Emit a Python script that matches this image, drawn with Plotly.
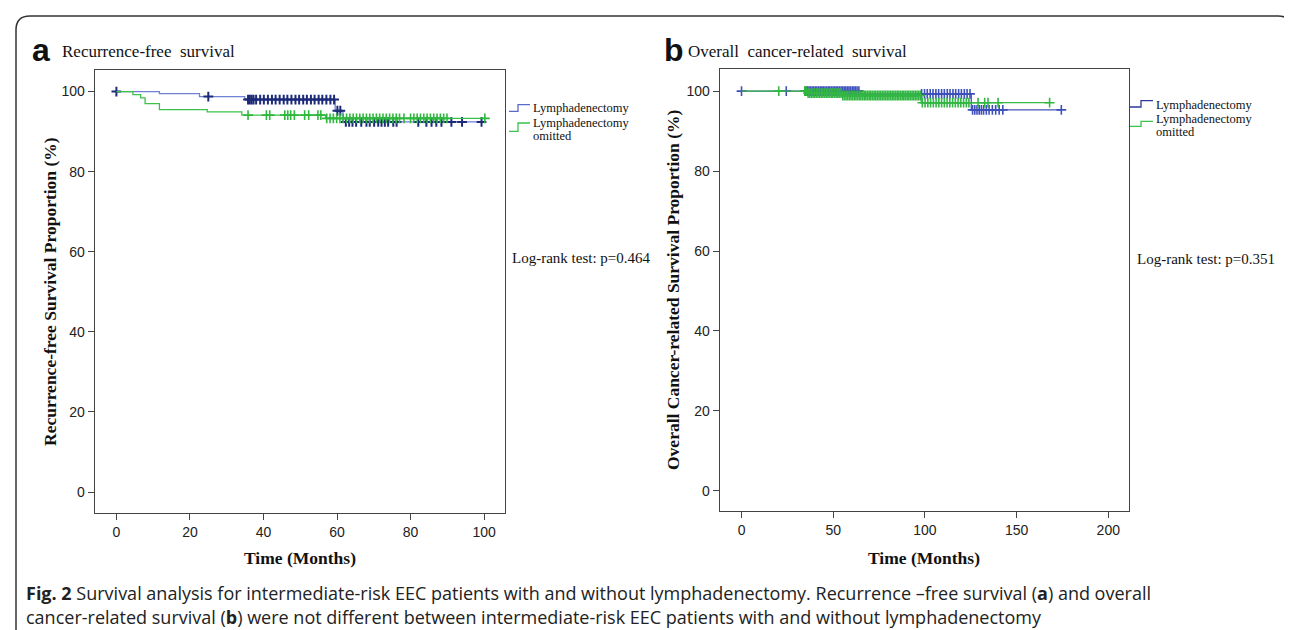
import plotly.graph_objects as go

W, H = 1292, 630

# ---------------- data ----------------
# Panel a: Recurrence-free survival
a_lymph_times = [0, 11.7, 22.6, 34.9, 59.5, 61.6]
a_lymph_surv = [100, 99.5, 98.75, 98.0, 95.2, 92.4]
a_lymph_end = 99.3
a_lymph_cens = [0, 25.0, 35.8, 36.3, 36.8, 37.3, 38.0, 39.1, 40.1, 41.2, 42.3, 43.3,
                44.4, 45.5, 46.5, 47.6, 48.7, 49.7, 50.8, 51.8, 52.9, 53.9, 55.0,
                56.0, 57.1, 58.2, 59.2, 60.1, 60.9, 62.4, 63.3, 64.2, 65.2, 66.6,
                68.0, 68.9, 70.1, 71.2, 72.1, 73.0, 73.9, 75.3, 76.2, 82.1, 84.3,
                85.7, 87.0, 88.4, 91.1, 94.0, 99.3]

a_omit_times = [0, 4.5, 6.6, 7.8, 11.7, 24.7, 34.1, 56.9]
a_omit_surv = [100, 99.25, 98.4, 97.0, 95.5, 94.9, 94.1, 93.3]
a_omit_end = 100.2
a_omit_cens = [35.8, 40.8, 41.7, 45.8, 46.6, 47.4, 48.4, 51.2, 52.3, 54.8, 55.6,
               57.2, 58.1, 59.0, 59.9, 60.8, 61.7, 62.6, 63.5, 64.4, 65.3, 66.2,
               67.1, 68.0, 68.9, 69.8, 70.7, 71.6, 72.5, 73.4, 74.3, 75.2, 76.1,
               77.0, 78.2, 80.0, 80.9, 81.8, 82.7, 83.6, 84.5, 85.4, 86.3, 87.2,
               88.1, 89.0, 89.9, 100.2]

# Panel b: Overall cancer-related survival
b_lymph_times = [0, 65.0, 125.3]
b_lymph_surv = [100, 99.3, 95.3]
b_lymph_end = 174.4
b_lymph_cens = [0, 24.4, 35.0, 35.9, 36.8, 37.6, 38.5, 39.4, 40.3, 41.1, 42.0, 42.9,
                43.8, 44.6, 45.5, 46.4, 47.3, 48.1, 49.0, 49.9, 50.8, 51.6, 52.5,
                53.4, 54.3, 55.1, 56.0, 56.9, 57.8, 58.6, 59.5, 60.4, 61.3, 62.1,
                63.0, 64.0, 98.2, 99.8, 101.3, 102.9, 104.4, 106.0, 107.5, 109.1,
                110.6, 112.2, 113.7, 115.3, 116.8, 118.4, 119.9, 121.5, 123.0, 124.6,
                126.0, 127.2, 128.4, 129.6, 130.8, 132.0, 133.5, 135.0, 136.8,
                138.6, 140.5, 142.5, 174.4]

b_omit_times = [0, 36.0, 55.0, 98.0]
b_omit_surv = [100, 99.5, 98.9, 97.1]
b_omit_end = 168.0
b_omit_cens = [20.3, 34.5, 35.4, 36.3, 37.2, 38.1, 39.0, 39.9, 40.8, 41.7, 42.6, 43.5,
               44.4, 45.3, 46.2, 47.1, 48.0, 48.9, 49.8, 50.7, 51.6, 52.5, 53.4,
               54.3, 55.2, 56.1, 57.0, 57.9, 58.8, 59.7, 60.6, 61.5, 62.4, 63.3,
               64.2, 65.1, 66.0, 66.9, 67.8, 68.7, 69.6, 70.5, 71.4, 72.3, 73.2,
               74.1, 75.0, 75.9, 76.8, 77.7, 78.6, 79.5, 80.4, 81.3, 82.2, 83.1,
               84.0, 84.9, 85.8, 86.7, 87.6, 88.5, 89.4, 90.3, 91.2, 92.1, 93.0,
               93.9, 94.8, 95.7, 96.6, 97.5, 98.6, 100.1, 101.6, 103.1, 104.6,
               106.1, 107.6, 109.1, 110.6, 112.1, 113.6, 115.1, 116.6, 118.1,
               119.6, 121.1, 122.6, 124.0, 129.0, 132.6, 134.4, 139.9, 168.0]

a_xticks = [0, 20, 40, 60, 80, 100]
b_xticks = [0, 50, 100, 150, 200]
yticks = [0, 20, 40, 60, 80, 100]

legend_line1 = "Lymphadenectomy"
legend_line2 = "omitted"


# ---------------- helpers ----------------
def step_xy(times, surv, end):
    return list(times) + [end], list(surv) + [surv[-1]]


def step_at(times, surv, t):
    v = surv[0]
    for ti, si in zip(times, surv):
        if ti <= t:
            v = si
    return v


def px(x):
    return x / W


def py(y):
    return 1 - y / H


fig = go.Figure()

panels = [
    dict(xa="x", ya="y",
         series=[(a_lymph_times, a_lymph_surv, a_lymph_end, a_lymph_cens, "#7080d4", "#1c2a78", 2.0),
                 (a_omit_times, a_omit_surv, a_omit_end, a_omit_cens, "#3cc24a", "#2fb83e", 1.6)]),
    dict(xa="x2", ya="y2",
         series=[(b_lymph_times, b_lymph_surv, b_lymph_end, b_lymph_cens, "#4656b8", "#3d4fba", 1.6),
                 (b_omit_times, b_omit_surv, b_omit_end, b_omit_cens, "#3ab849", "#33b643", 1.6)]),
]

for p in panels:
    for times, surv, end, cens, lcol, mcol, mw in p["series"]:
        xs, ys = step_xy(times, surv, end)
        fig.add_trace(go.Scatter(x=xs, y=ys, mode="lines", line=dict(color=lcol, width=1.3, shape="hv"),
                                 xaxis=p["xa"], yaxis=p["ya"], showlegend=False, hoverinfo="skip"))
        cy = [step_at(times, surv, t) for t in cens]
        fig.add_trace(go.Scatter(x=cens, y=cy, mode="markers",
                                 marker=dict(symbol="cross-thin", size=7, line=dict(color=mcol, width=mw)),
                                 xaxis=p["xa"], yaxis=p["ya"], showlegend=False, hoverinfo="skip"))

tickfont = dict(family="Liberation Sans Narrow, Liberation Sans, Arial", size=14, color="#222")
axcommon = dict(showline=True, linecolor="#444", linewidth=1, mirror=True, ticks="outside",
                ticklen=6, tickcolor="#444", tickwidth=1.2, showgrid=False, zeroline=False,
                tickfont=tickfont)

fig.update_layout(
    width=W, height=H, margin=dict(l=0, r=0, t=0, b=0),
    paper_bgcolor="white", plot_bgcolor="white", showlegend=False,
    xaxis=dict(domain=[px(86.7), px(496.7)], range=[-5.9, 105.6], tickvals=a_xticks, anchor="y", **axcommon),
    yaxis=dict(domain=[py(505.3), py(62.3)], range=[-5.3, 105.3], tickvals=yticks, anchor="x", **axcommon),
    xaxis2=dict(domain=[px(711.7), px(1121)], range=[-11.9, 211.3], tickvals=b_xticks, anchor="y2", **axcommon),
    yaxis2=dict(domain=[py(503.3), py(60.7)], range=[-5.1, 105.6], tickvals=yticks, anchor="x2", **axcommon),
)

serif = "Liberation Serif, Times New Roman, serif"
ann = []


def text(x, y, s, size, family=serif, color="#111", xanchor="left", angle=0, bold=False):
    ann.append(dict(x=px(x), y=py(y), xref="paper", yref="paper", text=(f"<b>{s}</b>" if bold else s),
                    showarrow=False, xanchor=xanchor, yanchor="middle", textangle=angle,
                    font=dict(family=family, size=size, color=color), align="left"))


# panel headers
text(22, 42, "a", 32, family="Liberation Sans, Arial", bold=True)
text(52, 44, "Recurrence-free  survival", 17)
text(654, 42, "b", 32, family="Liberation Sans, Arial", bold=True)
text(678, 44, "Overall  cancer-related  survival", 17)

# axis titles
text(42, 284, "Recurrence-free Survival Proportion (%)", 17.5, xanchor="center", angle=-90, bold=True)
text(665, 282, "Overall Cancer-related Survival Proportion (%)", 17.5, xanchor="center", angle=-90, bold=True)
text(292, 550, "Time (Months)", 17.5, xanchor="center", bold=True)
text(916, 550, "Time (Months)", 17.5, xanchor="center", bold=True)

# log-rank
text(502, 250, "Log-rank test: p=0.464", 15)
text(1127, 251, "Log-rank test: p=0.351", 15)

# legends
text(523, 100, legend_line1, 12.5)
text(523, 115, legend_line1, 12.5)
text(523, 128, legend_line2, 12.5)
text(1146, 97, legend_line1, 12.5)
text(1146, 111, legend_line1, 12.5)
text(1146, 124, legend_line2, 12.5)

# caption
capfont = "Open Sans, Noto Sans, sans-serif"
text(16, 585, "<b>Fig. 2</b> Survival analysis for intermediate-risk EEC patients with and without lymphadenectomy. "
     "Recurrence –free survival (<b>a</b>) and overall", 18, family=capfont, color="#222")
text(16, 609, "cancer-related survival (<b>b</b>) were not different between intermediate-risk EEC patients "
     "with and without lymphadenectomy", 18, family=capfont, color="#222")

fig.update_layout(annotations=ann)

shapes = []


def path_px(points, color, width=1.3):
    d = "M " + " L ".join(f"{px(x)},{py(y)}" for x, y in points)
    shapes.append(dict(type="path", path=d, xref="paper", yref="paper",
                       line=dict(color=color, width=width)))


# legend step symbols
path_px([(501, 103.3), (510, 103.3), (510, 96.7), (522, 96.7)], "#5a6ac8")
path_px([(501, 123.3), (510, 123.3), (510, 115), (522, 115)], "#3cc24a")
path_px([(1122, 99), (1133, 99), (1133, 92.7), (1145, 92.7)], "#2c3a9a")
path_px([(1122, 118.3), (1133, 118.3), (1133, 113.3), (1145, 113.3)], "#3cc24a")

# frame with rounded top corners
x0, x1, y0, r = 8, 1284, 8, 14
frame = (f"M {px(x0)},{py(640)} L {px(x0)},{py(y0 + r)} Q {px(x0)},{py(y0)} {px(x0 + r)},{py(y0)} "
         f"L {px(x1 - r)},{py(y0)} Q {px(x1)},{py(y0)} {px(x1)},{py(y0 + r)} L {px(x1)},{py(640)}")
shapes.append(dict(type="path", path=frame, xref="paper", yref="paper", line=dict(color="#333", width=1.5)))

fig.update_layout(shapes=shapes)

fig.write_html("out.html")
